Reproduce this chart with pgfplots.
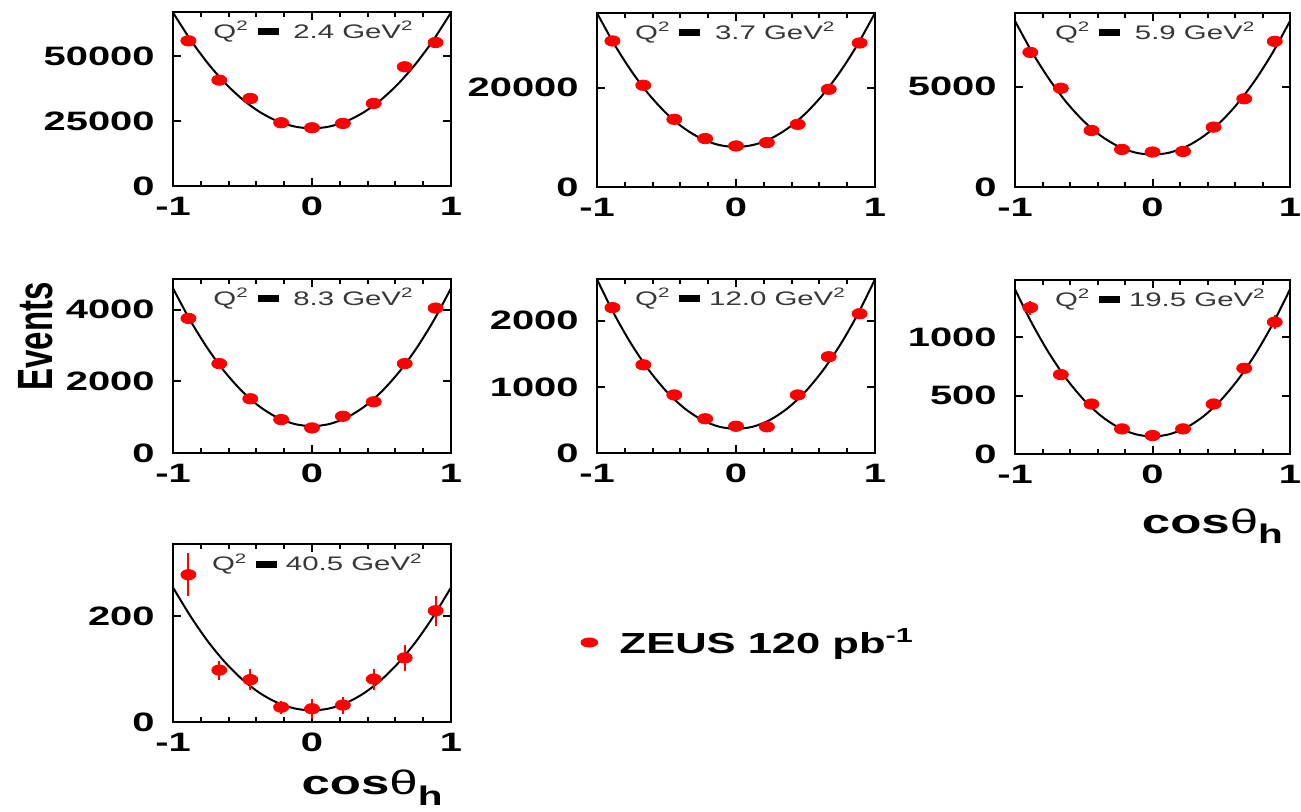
\documentclass[border=0pt]{standalone}
\usepackage{fontspec}
\setmainfont{Liberation Sans}[FakeStretch=1.5]
\newfontfamily\plainsans{Liberation Sans}
\usepackage{graphicx}
\usepackage{pgfplots}
\pgfplotsset{compat=1.18}

\definecolor{qgray}{RGB}{55,55,55}

\pgfplotsset{
  panel/.style={
    scale only axis, width=139pt, height=87pt,
    xmin=-1, xmax=1, ymin=0, clip=false,
    axis line style={line width=1.1pt},
    tick style={line width=1pt, black},
    major tick length=4pt, minor tick length=2.5pt,
    tick align=inside,
    xtick={-1,0,1}, xticklabels={-1,0,1}, minor x tick num=4,
    scaled y ticks=false,
    ticklabel style={font=\fontsize{13.3}{15}\selectfont\bfseries},
    yticklabel style={inner sep=0pt, xshift=-9pt},
    xticklabel style={inner sep=0pt, yshift=-5.5pt},
  },
  fitcurve/.style={black, line width=1pt, smooth, no marks, forget plot},
  datapts/.style={only marks, mark=*, mark size=2.6pt, red,
    mark options={xscale=1.45, draw=red, fill=red}},
  datapterr/.style={datapts, error bars/y dir=both, error bars/y explicit,
    error bars/error mark=none, error bars/error bar style={line width=1pt, red}},
}
% heavy equals sign used in the Q^2 labels
\newcommand{\heavyeq}{\hspace{0.45em}{\color{black}\raisebox{1.5pt}{\rule{10.5pt}{3.6pt}}}\hspace{0.45em}}
% Q^2 bin label inside each panel
\newcommand{\qlabel}[1]{{\fontsize{9.8}{11}\selectfont\color{qgray}Q\textsuperscript{2}\heavyeq#1 GeV\textsuperscript{2}}}
\newcommand{\costh}{{\fontsize{17}{20}\selectfont\bfseries cos{\mdseries θ}\raisebox{-0.3em}{\fontsize{13.5}{15}\selectfont h}}}

\begin{document}
\begin{tikzpicture}

% ---- Q^2 = 2.4 GeV^2
\begin{axis}[panel, at={(86.5pt,312.5pt)}, anchor=south west,
  ymax=67000, ytick={0,25000,50000}, yticklabels={0,25000,50000}]
\addplot[fitcurve] coordinates {
 (-1,66800) (-0.875,56347) (-0.75,47288) (-0.625,39622) (-0.5,33350)
 (-0.375,28472) (-0.25,24988) (-0.125,22897) (0,22200) (0.125,22897)
 (0.25,24988) (0.375,28472) (0.5,33350) (0.625,39622) (0.75,47288)
 (0.875,56347) (1,66800)};
\addplot[datapts] coordinates {
 (-0.889,55900) (-0.667,40770) (-0.444,33700) (-0.222,24360) (0,22430)
 (0.222,24100) (0.444,31800) (0.667,45900) (0.889,55260)};
\node[anchor=base west] at (rel axis cs:0.12,0.85) {\qlabel{\hspace{0.3em}2.4}};
\end{axis}

% ---- Q^2 = 3.7 GeV^2
\begin{axis}[panel, at={(298.5pt,312pt)}, anchor=south west,
  ymax=35000, ytick={0,20000}, yticklabels={0,20000}]
\addplot[fitcurve] coordinates {
 (-1,35000) (-0.875,28683) (-0.75,23209) (-0.625,18577) (-0.5,14788)
 (-0.375,11840) (-0.25,9734) (-0.125,8471) (0,8050) (0.125,8471)
 (0.25,9734) (0.375,11840) (0.5,14788) (0.625,18577) (0.75,23209)
 (0.875,28683) (1,35000)};
\addplot[datapts] coordinates {
 (-0.889,29380) (-0.667,20460) (-0.444,13620) (-0.222,9740) (0,8250)
 (0.222,8930) (0.444,12610) (0.667,19660) (0.889,28970)};
\node[anchor=base west] at (rel axis cs:0.112,0.85) {\qlabel{\hspace{0.3em}3.7}};
\end{axis}

% ---- Q^2 = 5.9 GeV^2
\begin{axis}[panel, at={(507.5pt,312pt)}, anchor=south west, width=137.5pt,
  ymax=8660, ytick={0,5000}, yticklabels={0,5000}]
\addplot[fitcurve] coordinates {
 (-1,8260) (-0.875,6701) (-0.75,5351) (-0.625,4208) (-0.5,3273)
 (-0.375,2545) (-0.25,2026) (-0.125,1714) (0,1610) (0.125,1714)
 (0.25,2026) (0.375,2545) (0.5,3273) (0.625,4208) (0.75,5351)
 (0.875,6701) (1,8260)};
\addplot[datapts] coordinates {
 (-0.889,6700) (-0.667,4915) (-0.444,2815) (-0.222,1870) (0,1740)
 (0.222,1770) (0.444,2980) (0.667,4390) (0.889,7250)};
\node[anchor=base west] at (rel axis cs:0.12,0.85) {\qlabel{\hspace{0.3em}5.9}};
\end{axis}

% ---- Q^2 = 8.3 GeV^2
\begin{axis}[panel, at={(86.5pt,179pt)}, anchor=south west,
  ymax=4860, ytick={0,2000,4000}, yticklabels={0,2000,4000}]
\addplot[fitcurve] coordinates {
 (-1,4600) (-0.875,3698) (-0.75,2916) (-0.625,2254) (-0.5,1713)
 (-0.375,1291) (-0.25,991) (-0.125,810) (0,750) (0.125,810)
 (0.25,991) (0.375,1291) (0.5,1713) (0.625,2254) (0.75,2916)
 (0.875,3698) (1,4600)};
\addplot[datapts] coordinates {
 (-0.889,3760) (-0.667,2497) (-0.444,1515) (-0.222,934) (0,700)
 (0.222,1027) (0.444,1430) (0.667,2497) (0.889,4048)};
\node[anchor=base west] at (rel axis cs:0.12,0.85) {\qlabel{\hspace{0.3em}8.3}};
\node[rotate=90] at (rel axis cs:-0.493,0.67)
  {\scalebox{1}[1.5]{\fontsize{16.5}{20}\selectfont\plainsans\bfseries Events}};
\end{axis}

% ---- Q^2 = 12.0 GeV^2
\begin{axis}[panel, at={(298.5pt,179pt)}, anchor=south west,
  ymax=2630, ytick={0,1000,2000}, yticklabels={0,1000,2000}]
\addplot[fitcurve] coordinates {
 (-1,2625) (-0.875,2095) (-0.75,1636) (-0.625,1248) (-0.5,930)
 (-0.375,683) (-0.25,506) (-0.125,400) (0,365) (0.125,400)
 (0.25,506) (0.375,683) (0.5,930) (0.625,1248) (0.75,1636)
 (0.875,2095) (1,2625)};
\addplot[datapts] coordinates {
 (-0.889,2197) (-0.667,1333) (-0.444,877) (-0.222,517) (0,405)
 (0.222,396) (0.444,877) (0.667,1455) (0.889,2105)};
\node[anchor=base west] at (rel axis cs:0.112,0.85) {\qlabel{12.0}};
\end{axis}

% ---- Q^2 = 19.5 GeV^2
\begin{axis}[panel, at={(507.5pt,178.5pt)}, anchor=south west, width=137.5pt,
  ymax=1490, ytick={0,500,1000}, yticklabels={0,500,1000}]
\addplot[fitcurve] coordinates {
 (-1,1410) (-0.875,1115) (-0.75,859) (-0.625,642) (-0.5,465)
 (-0.375,327) (-0.25,229) (-0.125,170) (0,150) (0.125,170)
 (0.25,229) (0.375,327) (0.5,465) (0.625,642) (0.75,859)
 (0.875,1115) (1,1410)};
\addplot[datapterr] coordinates {
 (-0.889,1254) +- (0,60) (-0.667,680) +- (0,30) (-0.444,428) +- (0,22)
 (-0.222,215) +- (0,16) (0,158) +- (0,14) (0.222,215) +- (0,16)
 (0.444,428) +- (0,22) (0.667,734) +- (0,30) (0.889,1130) +- (0,60)};
\node[anchor=base west] at (rel axis cs:0.12,0.85) {\qlabel{19.5}};
\node[anchor=base east] at (rel axis cs:1.0,-0.454) {\costh};
\end{axis}

% ---- Q^2 = 40.5 GeV^2
\begin{axis}[panel, at={(86.5pt,44.5pt)}, anchor=south west, height=89pt,
  ymax=336, ytick={0,200}, yticklabels={0,200},
  legend style={at={(axis description cs:1.4645,0.4466)}, anchor=west,
    draw=none, fill=none, inner sep=0pt, nodes={inner sep=1pt},
    font=\fontsize{14.5}{16}\selectfont\bfseries},
  legend cell align=left]
\addplot[fitcurve] coordinates {
 (-1,254) (-0.875,200) (-0.75,152.5) (-0.625,112.6) (-0.5,80)
 (-0.375,54.6) (-0.25,36.5) (-0.125,25.6) (0,22) (0.125,25.6)
 (0.25,36.5) (0.375,54.6) (0.5,80) (0.625,112.6) (0.75,152.5)
 (0.875,200) (1,254)};
\addplot[legend image code/.code={\fill[red] (0pt,0pt) ellipse (4.2pt and 2.3pt); \path (14pt,0pt);},
  datapterr]
  coordinates {
 (-0.889,278) +- (0,41) (-0.667,98) +- (0,18) (-0.444,80) +- (0,20)
 (-0.222,28) +- (0,12) (0,25) +- (0,19) (0.222,32) +- (0,16)
 (0.444,81) +- (0,20) (0.667,121) +- (0,24) (0.889,210) +- (0,28)};
\addlegendentry{ZEUS 120 pb\textsuperscript{-1}}
\node[anchor=base west] at (rel axis cs:0.115,0.85) {\qlabel{40.5}};
\node[anchor=base east] at (rel axis cs:0.995,-0.41) {\costh};
\end{axis}

\pgfresetboundingbox
\path (0pt,0pt) rectangle (650.5pt,405.5pt);
\end{tikzpicture}
\end{document}
